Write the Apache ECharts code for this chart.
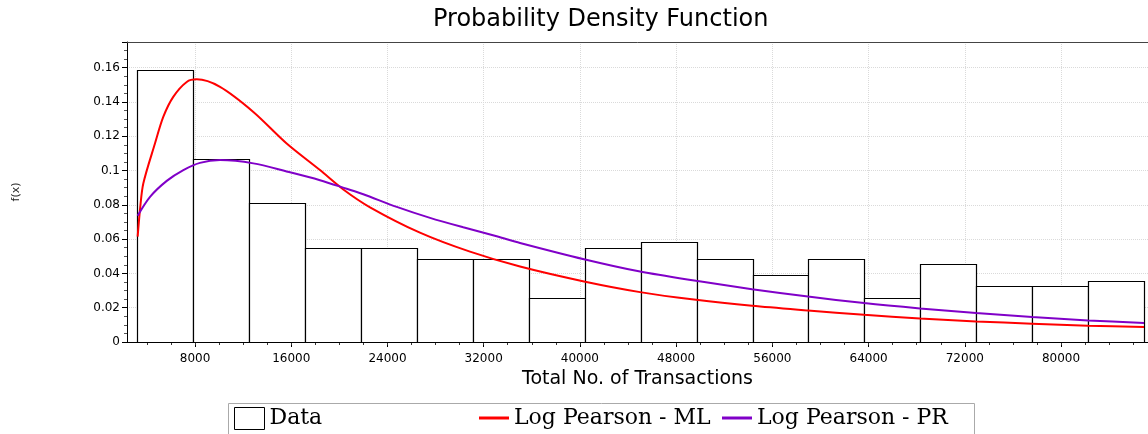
<!DOCTYPE html>
<html>
<head>
<meta charset="utf-8">
<script src="https://cdn.jsdelivr.net/npm/echarts@6/dist/echarts.min.js"></script>
<style>
html,body{margin:0;padding:0;background:#fff;}
#chart{width:1148px;height:434px;}
</style>
</head>
<body>
<div id="chart"></div>
<script>
// ---- data ----
const binEdges = [3200, 7850, 12500, 17150, 21800, 26450, 31100, 35750, 40400, 45050,
                  49700, 54350, 59000, 63650, 68300, 72950, 77600, 82250, 86900];
const binDensity = [0.1585, 0.1068, 0.0809, 0.0550, 0.0550, 0.0485, 0.0485, 0.0259, 0.0550,
                    0.0582, 0.0485, 0.0388, 0.0485, 0.0259, 0.0453, 0.0324, 0.0324, 0.0356];

const mlX = [3230, 3450, 3700, 4670, 5360, 6190, 7310, 8140, 10080, 12850, 15620, 18390, 20330,
             22550, 26700, 30860, 35020, 40340, 45000, 49650, 54310, 58960, 63620, 68270, 72930,
             77590, 82240, 86900];
const mlY = [0.0615, 0.079, 0.0925, 0.1158, 0.1313, 0.143, 0.1517, 0.1532, 0.1488, 0.1342, 0.1158,
             0.1003, 0.089, 0.0786, 0.0638, 0.0527, 0.044, 0.0353, 0.0291, 0.0246, 0.0211, 0.0184,
             0.0159, 0.0137, 0.012, 0.0107, 0.0095, 0.0087];

const prX = [3230, 4260, 5650, 7030, 8410, 10080, 12850, 15620, 18390, 20610, 21990, 24770, 27540,
             30300, 33080, 35020, 40340, 45000, 49650, 54310, 58960, 63620, 68270, 72930, 77590,
             82240, 86900];
const prY = [0.0737, 0.0847, 0.094, 0.1003, 0.1045, 0.1061, 0.1042, 0.0995, 0.0944, 0.0894, 0.0862,
             0.0788, 0.0724, 0.0669, 0.0617, 0.0578, 0.0483, 0.0411, 0.0357, 0.0308, 0.0265, 0.0227,
             0.0196, 0.0169, 0.0146, 0.0126, 0.0111];

const xMajorTicks = [8000, 16000, 24000, 32000, 40000, 48000, 56000, 64000, 72000, 80000];
const xMinorTicks = [4000, 6000, 8000, 10000, 12000, 14000, 16000, 18000, 20000, 22000, 24000, 26000,
                     28000, 30000, 32000, 34000, 36000, 38000, 40000, 42000, 44000, 46000, 48000,
                     50000, 52000, 54000, 56000, 58000, 60000, 62000, 64000, 66000, 68000, 70000,
                     72000, 74000, 76000, 78000, 80000, 82000, 84000, 86000];

const titleText = 'Probability Density Function';
const xName = 'Total No. of Transactions';
const yName = 'f(x)';
const seriesNames = ['Data', 'Log Pearson - ML', 'Log Pearson - PR'];

// ---- build ----
const histData = binDensity.map((d, i) => [binEdges[i], binEdges[i + 1], d]);
const mlData = mlX.map((x, i) => [x, mlY[i]]);
const prData = prX.map((x, i) => [x, prY[i]]);

const X_MIN = 2345, X_MAX = 87230;
const sans = 'DejaVu Sans';
const serif = 'DejaVu Serif';
const gridLine = {show: true, lineStyle: {type: 'dotted', color: '#dadada', width: 1}};

const chart = echarts.init(document.getElementById('chart'), null, {renderer: 'canvas'});
chart.setOption({
  animation: false,
  backgroundColor: '#fff',
  title: {
    text: titleText, left: 433, top: 8, padding: 0,
    textStyle: {fontFamily: sans, fontSize: 24, fontWeight: 'normal', color: '#000'}
  },
  grid: {left: 127, right: 0, top: 42, bottom: 92, show: false},
  xAxis: [{
    type: 'value', min: X_MIN, max: X_MAX, position: 'bottom',
    name: xName, nameLocation: 'middle', nameGap: 27,
    nameTextStyle: {fontFamily: sans, fontSize: 19, color: '#000'},
    axisLine: {show: true, onZero: false, lineStyle: {color: '#000', width: 1}},
    axisTick: {show: true, customValues: xMajorTicks, length: 5, lineStyle: {color: '#000'}},
    axisLabel: {customValues: xMajorTicks, margin: 11, fontFamily: sans, fontSize: 12, color: '#000',
                formatter: v => String(v)},
    splitLine: gridLine
  }, {
    type: 'value', min: X_MIN, max: X_MAX, position: 'bottom',
    axisLine: {show: false},
    axisTick: {show: true, customValues: xMinorTicks, length: 3, lineStyle: {color: '#333'}},
    axisLabel: {show: false},
    splitLine: {show: false}
  }, {
    type: 'value', min: X_MIN, max: X_MAX, position: 'top',
    axisLine: {show: true, onZero: false, lineStyle: {color: '#444', width: 1}},
    axisTick: {show: false}, axisLabel: {show: false}, splitLine: {show: false}
  }],
  yAxis: {
    type: 'value', min: 0, max: 0.175, interval: 0.02,
    axisLine: {show: true, onZero: false, lineStyle: {color: '#000', width: 1}},
    axisTick: {show: true, length: 5, lineStyle: {color: '#000'}},
    minorTick: {show: true, splitNumber: 4, length: 3, lineStyle: {color: '#555'}},
    axisLabel: {margin: 7, showMaxLabel: false, fontFamily: sans, fontSize: 12, color: '#000'},
    splitLine: gridLine
  },
  legend: [{
    left: 234, top: 407, padding: 0, selectedMode: false,
    itemWidth: 30, itemHeight: 22, itemGap: 0,
    textStyle: {fontFamily: serif, fontSize: 22, color: '#000'},
    data: [{name: seriesNames[0], icon: 'rect', itemStyle: {color: '#fff', borderColor: '#000', borderWidth: 1}}]
  }, {
    left: 479, top: 407, padding: 0, selectedMode: false,
    itemWidth: 30, itemHeight: 3, itemGap: 0,
    textStyle: {fontFamily: serif, fontSize: 22, color: '#000'},
    data: [{name: seriesNames[1], icon: 'rect', itemStyle: {color: '#ff0000', borderWidth: 0}}]
  }, {
    left: 722, top: 407, padding: 0, selectedMode: false,
    itemWidth: 30, itemHeight: 3, itemGap: 0,
    textStyle: {fontFamily: serif, fontSize: 22, color: '#000'},
    data: [{name: seriesNames[2], icon: 'rect', itemStyle: {color: '#8000c8', borderWidth: 0}}]
  }],
  graphic: [{
    type: 'rect', left: 228, top: 403, z: -1, silent: true,
    shape: {width: 746, height: 40},
    style: {fill: '#fff', stroke: '#aaa', lineWidth: 1}
  }, {
    type: 'text', x: 16, y: 192, rotation: Math.PI / 2, silent: true,
    style: {text: yName, fontFamily: sans, fontSize: 11, fill: '#222', align: 'center', verticalAlign: 'middle'}
  }],
  series: [{
    name: seriesNames[0], type: 'custom', z: 2,
    xAxisIndex: 0, yAxisIndex: 0,
    itemStyle: {color: '#fff', borderColor: '#000'},
    encode: {x: [0, 1], y: 2},
    data: histData,
    renderItem: function (params, api) {
      const p0 = api.coord([api.value(0), api.value(2)]);
      const p1 = api.coord([api.value(1), 0]);
      return {
        type: 'rect',
        shape: {x: Math.round(p0[0]) + 0.5, y: Math.round(p0[1]) + 0.5,
                width: Math.round(p1[0]) - Math.round(p0[0]), height: Math.round(p1[1]) - Math.round(p0[1])},
        style: {fill: '#fff', stroke: '#000', lineWidth: 1.2}
      };
    }
  }, {
    name: seriesNames[1], type: 'line', z: 3, data: mlData,
    smooth: 0.3, showSymbol: false, symbol: 'none',
    itemStyle: {color: '#ff0000'},
    lineStyle: {color: '#ff0000', width: 2}
  }, {
    name: seriesNames[2], type: 'line', z: 4, data: prData,
    smooth: 0.3, showSymbol: false, symbol: 'none',
    itemStyle: {color: '#8000c8'},
    lineStyle: {color: '#8000c8', width: 2}
  }]
});
</script>
</body>
</html>
